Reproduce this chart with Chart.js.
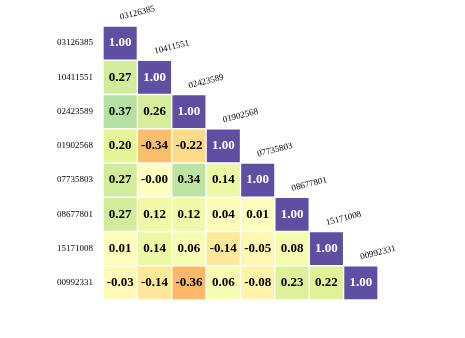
<!DOCTYPE html>
<html lang="en">
<head>
  <meta charset="UTF-8">
  <title>Correlation heatmap</title>
  <script src="https://cdn.jsdelivr.net/npm/chart.js"></script>
  <style>
    body { margin: 0; background: white; }
    #wrap { width: 465px; height: 338px; }
  </style>
</head>
<body>
  <div id="wrap"><canvas id="grafico" width="465" height="338"></canvas></div>

  <script>
    // labels of rows / columns
    const nomes = ["03126385", "10411551", "02423589", "01902568", "07735803", "08677801", "15171008", "00992331"];

    // lower triangle of the correlation matrix, row by row
    const linha0 = [1.00];
    const linha1 = [0.27, 1.00];
    const linha2 = [0.37, 0.26, 1.00];
    const linha3 = [0.20, -0.34, -0.22, 1.00];
    const linha4 = [0.27, -0.004, 0.34, 0.14, 1.00];
    const linha5 = [0.27, 0.12, 0.12, 0.04, 0.01, 1.00];
    const linha6 = [0.01, 0.14, 0.06, -0.14, -0.05, 0.08, 1.00];
    const linha7 = [-0.03, -0.14, -0.36, 0.06, -0.08, 0.23, 0.22, 1.00];
    const linhas = [linha0, linha1, linha2, linha3, linha4, linha5, linha6, linha7];

    // Spectral colormap, -1 .. 1
    const spectral = ["#9e0142", "#d53e4f", "#f46d43", "#fdae61", "#fee08b", "#ffffbf",
                      "#e6f598", "#abdda4", "#66c2a5", "#3288bd", "#5e4fa2"];

    function hexRgb(h) {
      return [parseInt(h.slice(1, 3), 16), parseInt(h.slice(3, 5), 16), parseInt(h.slice(5, 7), 16)];
    }
    function cor(v) {
      let t = (v + 1) / 2 * (spectral.length - 1);
      t = Math.max(0, Math.min(spectral.length - 1, t));
      const i = Math.min(Math.floor(t), spectral.length - 2);
      const f = t - i;
      const a = hexRgb(spectral[i]), b = hexRgb(spectral[i + 1]);
      const c = a.map((x, k) => Math.round(x + (b[k] - x) * f));
      return `rgb(${c[0]},${c[1]},${c[2]})`;
    }

    // one dataset per row, floating bars spanning [row, row+1]
    const datasets = linhas.map((vals, r) => ({
      label: nomes[r],
      data: nomes.map((_, c) => c <= r ? [r, r + 1] : null),
      valores: vals,
      backgroundColor: ctx => {
        const v = vals[ctx.dataIndex];
        return v === undefined ? 'transparent' : cor(v);
      },
      borderColor: 'white',
      borderWidth: 1,
      borderSkipped: false,
      barPercentage: 1,
      categoryPercentage: 1,
      grouped: false
    }));

    const textos = {
      id: 'textos',
      afterDatasetsDraw(chart) {
        const { ctx, scales: { x, y } } = chart;
        ctx.save();
        // values inside cells
        ctx.textAlign = 'center';
        ctx.textBaseline = 'middle';
        ctx.font = 'bold 13px "Liberation Serif", serif';
        linhas.forEach((vals, r) => {
          vals.forEach((v, c) => {
            ctx.fillStyle = v > 0.8 ? 'white' : 'black';
            ctx.fillText(v.toFixed(2), x.getPixelForValue(c), y.getPixelForValue(r + 0.5));
          });
        });
        // row labels on the left
        ctx.font = '9px "Liberation Serif", serif';
        ctx.fillStyle = 'black';
        ctx.textAlign = 'right';
        nomes.forEach((n, r) => {
          ctx.fillText(n, x.left - 10, y.getPixelForValue(r + 0.5));
        });
        // column labels above the diagonal, rotated
        ctx.textAlign = 'center';
        nomes.forEach((n, c) => {
          const w = x.getPixelForValue(1) - x.getPixelForValue(0);
          const px = x.getPixelForValue(c) + w * 0.5;
          const py = y.getPixelForValue(c) - 13;
          ctx.save();
          ctx.translate(px, py);
          ctx.rotate(-14 * Math.PI / 180);
          ctx.fillText(n, 0, 0);
          ctx.restore();
        });
        ctx.restore();
      }
    };

    new Chart(document.getElementById("grafico"), {
      type: 'bar',
      data: { labels: nomes, datasets: datasets },
      options: {
        responsive: false,
        animation: false,
        layout: { padding: { left: 103, top: 26, right: 87, bottom: 38 } },
        plugins: { legend: { display: false }, tooltip: { enabled: false } },
        scales: {
          x: { display: false, offset: true, grid: { display: false } },
          y: { display: false, min: 0, max: 8, reverse: true }
        }
      },
      plugins: [textos]
    });
  </script>
</body>
</html>
